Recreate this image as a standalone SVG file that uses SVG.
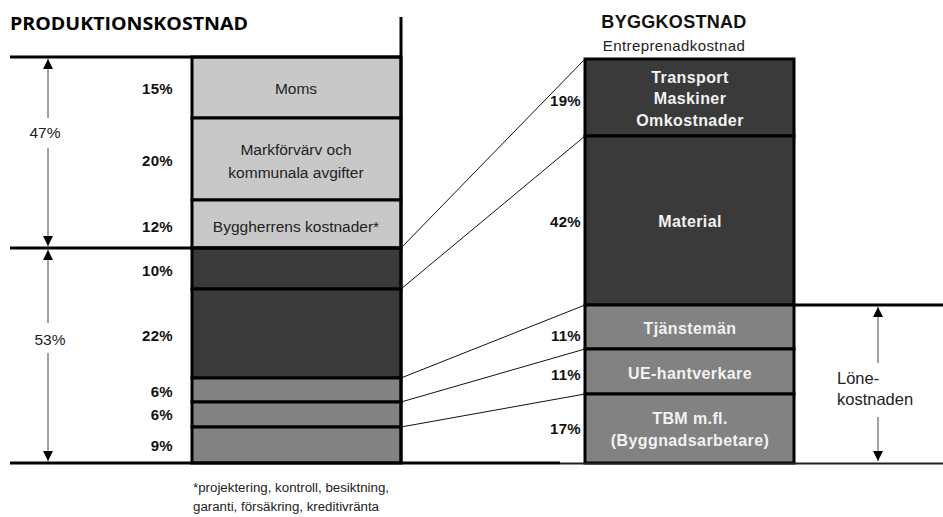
<svg xmlns="http://www.w3.org/2000/svg" width="943" height="517" viewBox="0 0 943 517">
<style>
text{font-family:"Liberation Sans",Arial,sans-serif;}
.t{font-size:15.5px;fill:#222;text-anchor:middle;}
.pc{font-size:15px;font-weight:bold;fill:#111;text-anchor:end;letter-spacing:0.3px;}
.w{font-size:16px;font-weight:bold;fill:#f2f2f2;text-anchor:middle;letter-spacing:0.4px;}
.box{stroke:#000;stroke-width:3;}
.lt{fill:#c8c8c8;}
.dk{fill:#3a3a3a;}
.md{fill:#828282;}
.rule{stroke:#000;stroke-width:3;fill:none;}
.conn{stroke:#111;stroke-width:1;fill:none;}
.dim{stroke:#444;stroke-width:1;fill:none;}
</style>
<defs>
<marker id="ah" viewBox="0 0 10 10" refX="10" refY="5" markerWidth="10" markerHeight="10" markerUnits="userSpaceOnUse" orient="auto">
<path d="M0,0 L10,5 L0,10 Z" fill="#000"/>
</marker>
</defs>
<rect width="943" height="517" fill="#fff"/>

<text x="10" y="30" font-weight="bold" font-size="18" textLength="238" lengthAdjust="spacingAndGlyphs" style="font-family:'Open Sans',sans-serif">PRODUKTIONSKOSTNAD</text>
<text x="674" y="28" font-size="18" font-weight="bold" text-anchor="middle" fill="#111" letter-spacing="0.3">BYGGKOSTNAD</text>
<text x="674" y="51" font-size="15" text-anchor="middle" fill="#222" letter-spacing="0.4">Entreprenadkostnad</text>

<g id="left-bar">
<rect class="box lt" x="192" y="57" width="209" height="61"/>
<rect class="box lt" x="192" y="118" width="209" height="82"/>
<rect class="box lt" x="192" y="200" width="209" height="48"/>
<rect class="box dk" x="192" y="248" width="209" height="41"/>
<rect class="box dk" x="192" y="289" width="209" height="89"/>
<rect class="box md" x="192" y="378" width="209" height="24"/>
<rect class="box md" x="192" y="402" width="209" height="25"/>
<rect class="box md" x="192" y="427" width="209" height="36"/>
<text class="t" x="296" y="94">Moms</text>
<text class="t" x="296" y="155">Markförvärv och</text>
<text class="t" x="296" y="178">kommunala avgifter</text>
<text class="t" x="296" y="232">Byggherrens kostnader*</text>
<text class="pc" x="173" y="94">15%</text>
<text class="pc" x="173" y="166">20%</text>
<text class="pc" x="173" y="232">12%</text>
<text class="pc" x="173" y="276">10%</text>
<text class="pc" x="173" y="341">22%</text>
<text class="pc" x="173" y="397">6%</text>
<text class="pc" x="173" y="420">6%</text>
<text class="pc" x="173" y="451">9%</text>
</g>

<g id="right-bar">
<rect class="box dk" x="585" y="59" width="209" height="77"/>
<rect class="box dk" x="585" y="136" width="209" height="169"/>
<rect class="box md" x="585" y="305" width="209" height="44"/>
<rect class="box md" x="585" y="349" width="209" height="45"/>
<rect class="box md" x="585" y="394" width="209" height="69"/>
<text class="w" x="690" y="83">Transport</text>
<text class="w" x="690" y="104">Maskiner</text>
<text class="w" x="690" y="126">Omkostnader</text>
<text class="w" x="690" y="227">Material</text>
<text class="w" x="690" y="334">Tjänstemän</text>
<text class="w" x="690" y="379">UE-hantverkare</text>
<text class="w" x="690" y="424">TBM m.fl.</text>
<text class="w" x="690" y="446" letter-spacing="0.9">(Byggnadsarbetare)</text>
<text class="pc" x="581" y="106">19%</text>
<text class="pc" x="581" y="227">42%</text>
<text class="pc" x="581" y="341">11%</text>
<text class="pc" x="581" y="380">11%</text>
<text class="pc" x="581" y="434">17%</text>
</g>

<g id="rules">
<line class="rule" x1="10" y1="57" x2="402" y2="57"/>
<line class="rule" x1="10" y1="248" x2="402" y2="248"/>
<line class="rule" x1="10" y1="463" x2="560" y2="463"/>
<line x1="560" y1="463.5" x2="943" y2="463.5" stroke="#222" stroke-width="2"/>
<line class="rule" x1="401" y1="17" x2="401" y2="463"/>
<line class="rule" x1="794" y1="305" x2="943" y2="305"/>
</g>

<g id="connectors">
<line class="conn" x1="401" y1="248" x2="585" y2="59"/>
<line class="conn" x1="401" y1="289" x2="585" y2="136"/>
<line class="conn" x1="401" y1="378" x2="585" y2="305"/>
<line class="conn" x1="401" y1="402" x2="585" y2="349"/>
<line class="conn" x1="401" y1="427" x2="585" y2="394"/>
</g>

<g id="dim-47">
<line class="dim" x1="48" y1="118" x2="48" y2="59" marker-end="url(#ah)"/>
<line class="dim" x1="48" y1="148" x2="48" y2="246" marker-end="url(#ah)"/>
<text x="45" y="138" font-size="15.5" text-anchor="middle" fill="#222">47%</text>
</g>
<g id="dim-53">
<line class="dim" x1="48" y1="323" x2="48" y2="250" marker-end="url(#ah)"/>
<line class="dim" x1="48" y1="353" x2="48" y2="461" marker-end="url(#ah)"/>
<text x="50" y="345" font-size="15.5" text-anchor="middle" fill="#222">53%</text>
</g>
<g id="dim-lone">
<line class="dim" x1="878" y1="363" x2="878" y2="307" marker-end="url(#ah)"/>
<line class="dim" x1="878" y1="417" x2="878" y2="461" marker-end="url(#ah)"/>
<text x="837" y="384" font-size="16.5" fill="#222">Löne-</text>
<text x="837" y="405" font-size="16.5" fill="#222">kostnaden</text>
</g>

<g id="footnote">
<text x="193" y="492" font-size="12.5" fill="#222" textLength="196" lengthAdjust="spacingAndGlyphs">*projektering, kontroll, besiktning,</text>
<text x="193" y="511" font-size="12.5" fill="#222" textLength="186" lengthAdjust="spacingAndGlyphs">garanti, försäkring, kreditivränta</text>
</g>
</svg>
